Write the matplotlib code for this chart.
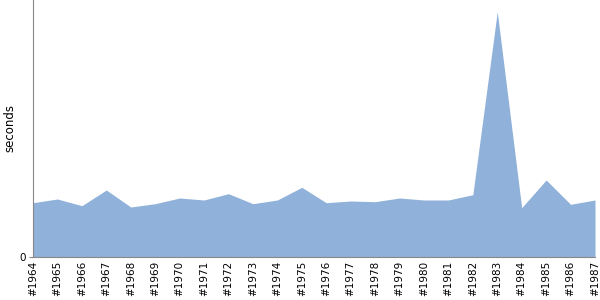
import matplotlib
matplotlib.use("Agg")
import matplotlib.pyplot as plt
import numpy as np

# run labels and measured time (seconds)
labels = ["#1964", "#1965", "#1966", "#1967", "#1968", "#1969", "#1970", "#1971",
          "#1972", "#1973", "#1974", "#1975", "#1976", "#1977", "#1978", "#1979",
          "#1980", "#1981", "#1982", "#1983", "#1984", "#1985", "#1986", "#1987"]
seconds = [5.43, 5.80, 5.13, 6.70, 5.00, 5.33, 5.90, 5.70,
           6.33, 5.33, 5.70, 6.97, 5.43, 5.60, 5.53, 5.90,
           5.70, 5.70, 6.23, 24.53, 4.93, 7.70, 5.27, 5.70]

fig = plt.figure(figsize=(6, 3), dpi=100)
ax = fig.add_axes([33 / 600, 43 / 300, 562 / 600, 257 / 300])

x = np.arange(len(labels))
ax.fill_between(x, 0, seconds, color="#8fb1da", linewidth=0)

ax.set_xlim(0, len(labels) - 1)
ax.set_ylim(0, 25.7)
ax.set_xticks(x)
ax.set_xticklabels(labels, rotation=90, fontsize=7.5)
ax.set_yticks([0])
ax.set_yticklabels(["0"], fontsize=7.5)
ax.tick_params(axis="x", length=0, pad=3)
ax.tick_params(axis="y", length=3, color="#888888", pad=2)
ax.set_ylabel("seconds", fontsize=8.5)
ax.yaxis.set_label_coords(-17 / 562, 0.5)

for side in ["top", "right"]:
    ax.spines[side].set_visible(False)
for side in ["left", "bottom"]:
    ax.spines[side].set_color("#888888")

fig.savefig("out.png", dpi=100)
